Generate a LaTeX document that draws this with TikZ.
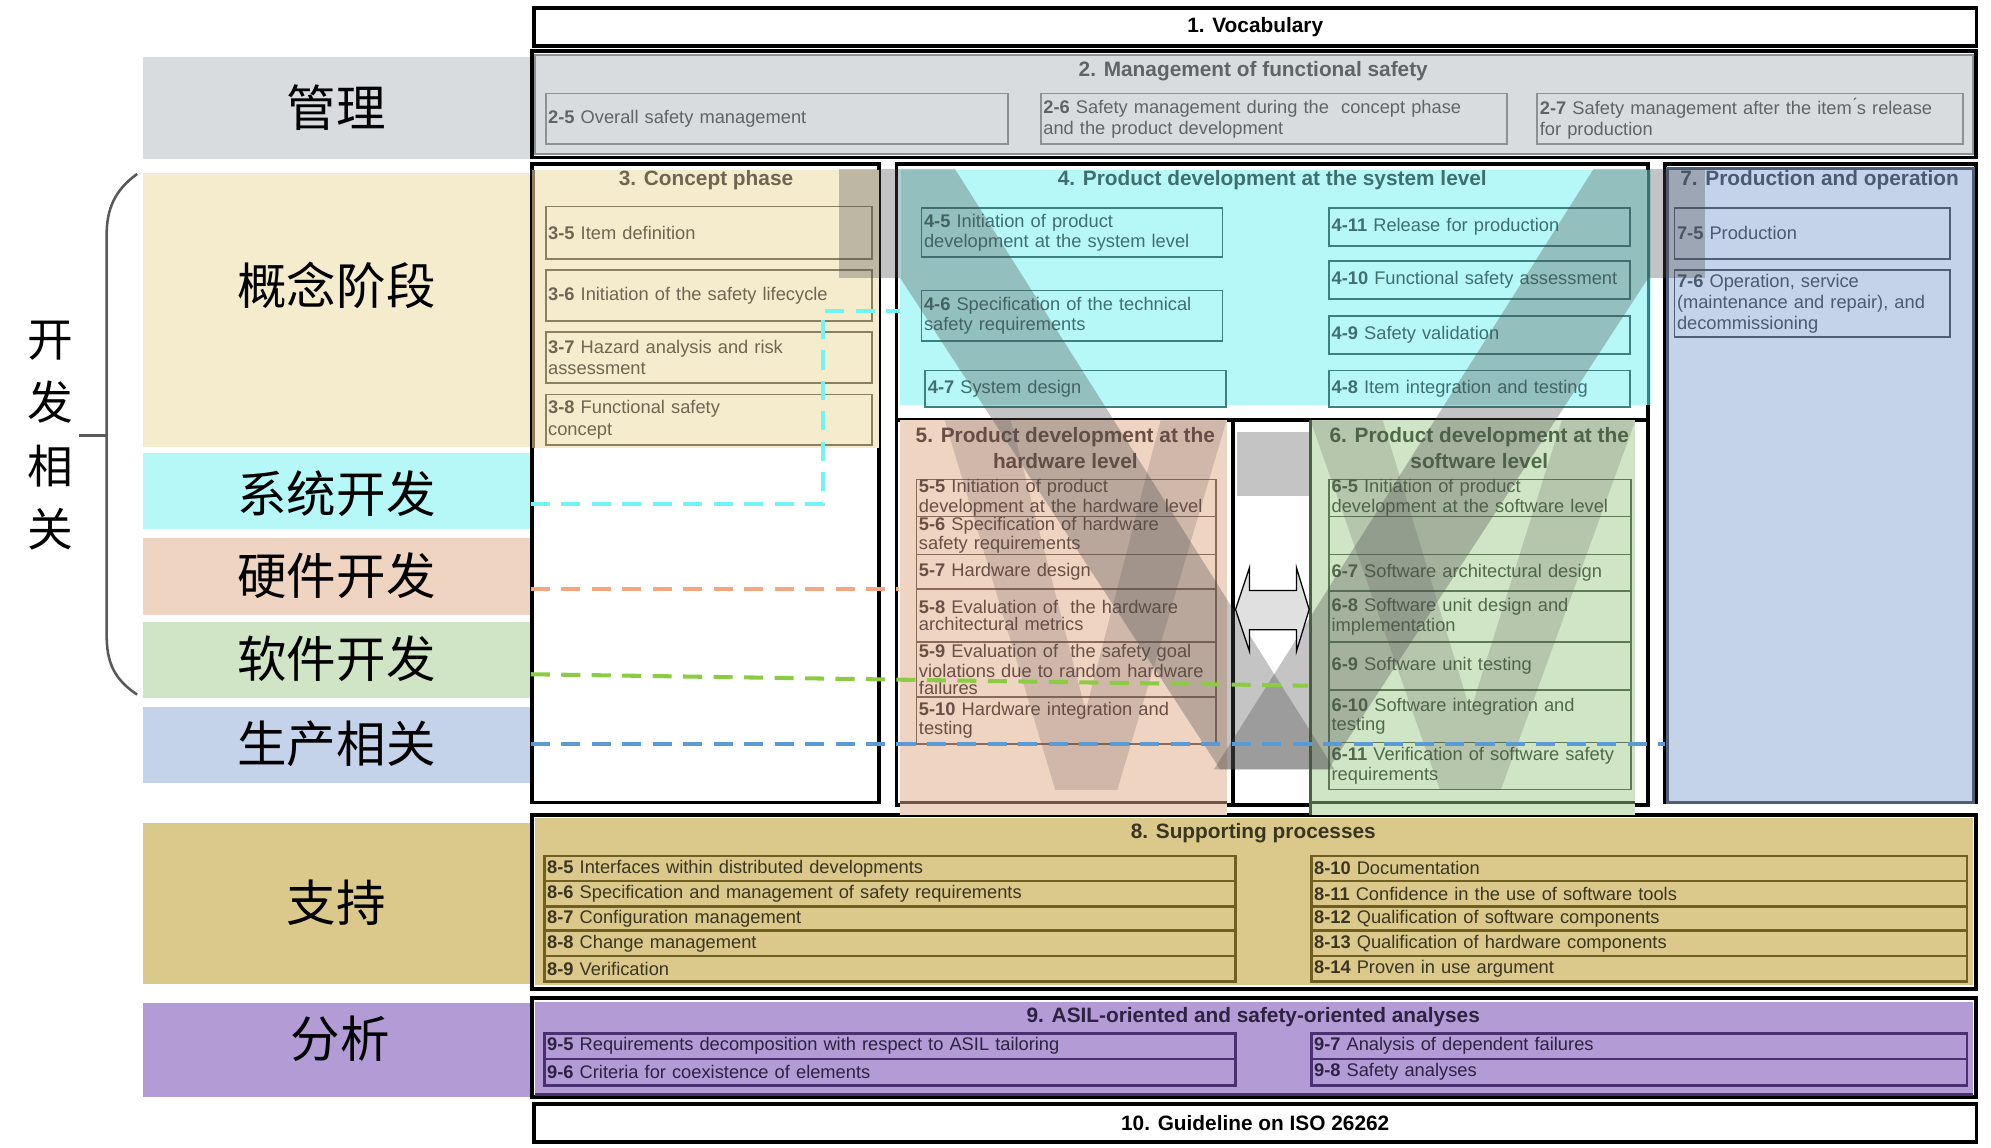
\documentclass[tikz,border=0pt]{standalone}
\usepackage{fontspec}
\setmainfont{Liberation Sans}
\newfontfamily\cjk{Noto Sans CJK SC}
\usetikzlibrary{calc}
\AtBeginDocument{\hyphenpenalty=10000 \exhyphenpenalty=10000 }
\definecolor{cMg}{HTML}{D9DCDF}
\definecolor{cCo}{HTML}{F5ECCE}
\definecolor{cSy}{HTML}{B6F8F8}
\definecolor{cHw}{HTML}{F0D4C2}
\definecolor{cSw}{HTML}{D0E5C6}
\definecolor{cPr}{HTML}{C4D3EA}
\definecolor{cSu}{HTML}{DBC98B}
\definecolor{cAn}{HTML}{B39BD6}
\definecolor{lMg}{HTML}{8C9196}
\definecolor{lCo}{HTML}{8A7F5F}
\definecolor{lSy}{HTML}{3C8080}
\definecolor{lPr}{HTML}{4F5F7A}
\definecolor{lHw}{HTML}{8B6A5A}
\definecolor{lSw}{HTML}{5D7A55}
\definecolor{lSu}{HTML}{6F5F20}
\definecolor{lAn}{HTML}{4A3070}
\definecolor{tMg}{HTML}{606468}
\definecolor{tCo}{HTML}{6E6650}
\definecolor{tSy}{HTML}{3F6F6F}
\definecolor{tPr}{HTML}{4A5A70}
\definecolor{tHw}{HTML}{6A4F45}
\definecolor{tSw}{HTML}{4F6A48}
\definecolor{tSu}{HTML}{3A3520}
\definecolor{tAn}{HTML}{2D2240}
\definecolor{dCy}{HTML}{70F4F4}
\definecolor{dOr}{HTML}{F4A77F}
\definecolor{dGr}{HTML}{8CCC45}
\definecolor{dBl}{HTML}{5B9BD5}
\newcommand\bx[7][]{%
  \node[box,#1,minimum width={(#5-#3)*0.5pt},minimum height={(#6-#4)*0.5pt},
        text width={(#5-#3)*0.5pt-2pt},anchor=north west] (#2) at (#3,#4) {#7};}
\newcommand\nm[1]{\textbf{#1}}
\begin{document}
\begin{tikzpicture}[x=0.5pt,y=-0.5pt,
  frame/.style={draw=black,line width=1.5pt},
  box/.style={draw,line width=0.7pt,inner xsep=1pt,inner ysep=0pt,align=left,
              font=\fontsize{7.2}{8.4}\selectfont},
  tight/.style={font=\fontsize{7.2}{6.6}\selectfont},
  head/.style={font=\bfseries\fontsize{8.2}{9.6}\selectfont,align=center,inner sep=0pt},
  lab/.style={font=\cjk\fontsize{19.5}{20}\selectfont,inner sep=0pt},
  dsh/.style={line width=1.6pt,dash pattern=on 7.5pt off 4.5pt},
  vgray/.style={fill=black!70,fill opacity=0.33},
  vlight/.style={fill=black!70,fill opacity=0.2}]
\useasboundingbox (0,0) rectangle (1568,904);
\fill[white] (0,0) rectangle (1568,904);

% ---------- left labels ----------
\fill[cMg] (113,45) rectangle (418,125);
\node[lab] (lmg) at (265,85) {管理};
\fill[cCo] (113,136) rectangle (418,352);
\node[lab] (lco) at (265,225) {概念阶段};
\fill[cSy] (113,357) rectangle (418,417);
\node[lab] (lsy) at (265,389) {系统开发};
\fill[cHw] (113,424) rectangle (418,484);
\node[lab] (lhw) at (265,453) {硬件开发};
\fill[cSw] (113,490) rectangle (418,550);
\node[lab] (lsw) at (265,519) {软件开发};
\fill[cPr] (113,557) rectangle (418,617);
\node[lab] (lpr) at (265,586) {生产相关};
\fill[cSu] (113,648) rectangle (418,775);
\node[lab] (lsu) at (265,711) {支持};
\fill[cAn] (113,790) rectangle (418,864);
\node[lab] (lan) at (268,818) {分析};
\draw[black!65,line width=1pt] (108,137) .. controls (90,150) and (84,165) .. (84,185)
  -- (84,500) .. controls (84,522) and (90,535) .. (108,547);
\draw[black!65,line width=1pt] (84,343) -- (62,343);
\node[font=\cjk\fontsize{18}{18}\selectfont,align=center,inner sep=0pt] (dev) at (40,343)
  {开\\[7pt]发\\[7pt]相\\[7pt]关};

% ---------- frames ----------
\node[frame,fill=white,minimum width=568pt,minimum height=15pt,anchor=north west,inner sep=0pt,
  font=\bfseries\fontsize{8.2}{9}\selectfont] (p1) at (419,5) {1. Vocabulary};
\draw[frame] (419,40) rectangle (1556,124);
\draw[frame] (419,129) rectangle (692,632);
\draw[frame] (706,129) rectangle (1298,331);
\draw[frame] (706,331) rectangle (1298,634);
\draw[frame] (971,331) -- (971,634);
\draw[frame] (1311,129) rectangle (1556,632);
\draw[frame] (419,642) rectangle (1556,779);
\draw[frame] (419,786) rectangle (1556,864);
\node[frame,fill=white,minimum width=568pt,minimum height=15pt,anchor=north west,inner sep=0pt,
  font=\bfseries\fontsize{8.2}{9}\selectfont] (p10) at (419,868) {10. Guideline on ISO 26262};

% ---------- part 2 ----------
\fill[cMg,draw=lMg,line width=0.8pt] (421,43) rectangle (1554,121);
\node[head,text=tMg] (p2) at (987,56) {2. Management of functional safety};
\begin{scope}[box/.append style={draw=lMg,text=tMg}]
\bx{b25}{429}{73}{793}{113}{\nm{2-5} Overall safety management}
\bx{b26}{819}{73}{1186}{113}{\nm{2-6} Safety management during the\ \ concept phase\\and the product development}
\bx{b27}{1210}{73}{1545}{113}{\nm{2-7} Safety management after the item\'{}s release\\for production}
\end{scope}

% ---------- part 3 ----------
\fill[cCo] (420,134) rectangle (692,353);
\draw[lCo,line width=1.2pt] (420,134) -- (420,353);
\node[head,text=tCo] (p3) at (556,142) {3. Concept phase};
\begin{scope}[box/.append style={draw=lCo,text=tCo}]
\bx{b35}{429}{162}{686}{203}{\nm{3-5} Item definition}
\bx{b36}{429}{212}{686}{252}{\nm{3-6} Initiation of the safety lifecycle}
\bx{b37}{429}{261}{686}{301}{\nm{3-7} Hazard analysis and risk\\assessment}
\bx{b38}{429}{310}{686}{350}{\nm{3-8} Functional safety\\concept}
\end{scope}

% ---------- part 4 ----------
\fill[cSy] (709,134) rectangle (1300,319);
\draw[lSy,line width=1.2pt] (1298,134) -- (1298,319);
\node[head,text=tSy] (p4) at (1002,142) {4. Product development at the system level};
\begin{scope}[box/.append style={draw=lSy,text=tSy}]
\bx[tight]{b45}{725}{163}{962}{202}{\nm{4-5} Initiation of product\\development at the system level}
\bx[tight]{b46}{725}{228}{962}{268}{\nm{4-6} Specification of the technical\\safety requirements}
\bx{b47}{728}{291}{965}{320}{\nm{4-7} System design}
\bx{b411}{1046}{163}{1283}{193}{\nm{4-11} Release for production}
\bx{b410}{1046}{205}{1283}{235}{\nm{4-10} Functional safety assessment}
\bx{b49}{1046}{248}{1283}{278}{\nm{4-9} Safety validation}
\bx{b48}{1046}{291}{1283}{320}{\nm{4-8} Item integration and testing}
\end{scope}

% ---------- part 7 ----------
\fill[cPr,draw=lPr,line width=1.2pt] (1313,133) rectangle (1554,632);
\node[head,text=tPr] (p7) at (1433,142) {7. Production and operation};
\begin{scope}[box/.append style={draw=lPr,text=tPr}]
\bx{b75}{1318}{163}{1535}{203}{\nm{7-5} Production}
\bx{b76}{1318}{212}{1535}{265}{\nm{7-6} Operation, service\\(maintenance and repair), and\\decommissioning}
\end{scope}

% ---------- part 5 ----------
\fill[cHw] (709,331) rectangle (966,642);
\draw[lHw!80!black,line width=1.2pt] (709,632) -- (966,632);
\node[head,text=tHw,font=\bfseries\fontsize{8.2}{10}\selectfont] (p5) at (839,353) {5. Product development at the\\hardware level};
\begin{scope}[box/.append style={draw=lHw,text=tHw}]
\bx[tight]{b55}{721}{377}{957}{406}{\nm{5-5} Initiation of product\\development at the hardware level}
\bx[tight]{b56}{721}{406}{957}{436}{\nm{5-6} Specification of hardware\\safety requirements}
\bx{b57}{721}{436}{957}{463}{\nm{5-7} Hardware design}
\bx[tight]{b58}{721}{463}{957}{505}{\nm{5-8} Evaluation of\ \ the hardware\\architectural metrics}
\bx[tight]{b59}{721}{505}{957}{548}{\nm{5-9} Evaluation of\ \ the safety goal\\violations due to random hardware\\failures}
\bx[tight]{b510}{721}{548}{957}{585}{\nm{5-10} Hardware integration and\\testing}
\end{scope}

% ---------- part 6 ----------
\fill[cSw] (1032,331) rectangle (1288,642);
\draw[lSw!80!black,line width=1.2pt] (1032,331) -- (1032,642);
\draw[lSw!80!black,line width=1.2pt] (1032,632) -- (1288,632);
\node[head,text=tSw,font=\bfseries\fontsize{8.2}{10}\selectfont] (p6) at (1165,353) {6. Product development at the\\software level};
\begin{scope}[box/.append style={draw=lSw,text=tSw}]
\bx[tight]{b65}{1046}{377}{1284}{406}{\nm{6-5} Initiation of product\\development at the software level}
\bx{b66}{1046}{406}{1284}{436}{}
\bx{b67}{1046}{436}{1284}{465}{\nm{6-7} Software architectural design}
\bx[tight]{b68}{1046}{465}{1284}{505}{\nm{6-8} Software unit design and\\implementation}
\bx{b69}{1046}{505}{1284}{543}{\nm{6-9} Software unit testing}
\bx[tight]{b610}{1046}{543}{1284}{584}{\nm{6-10} Software integration and\\testing}
\bx[tight]{b611}{1046}{584}{1284}{621}{\nm{6-11} Verification of software safety\\requirements}
\end{scope}

% ---------- part 8 ----------
\fill[cSu] (421,644) rectangle (1554,776);
\node[head,text=tSu] (p8) at (987,656) {8. Supporting processes};
\begin{scope}[box/.append style={draw=lSu,text=tSu,line width=0.9pt}]
\bx{b85}{428}{673}{972}{693}{\nm{8-5} Interfaces within distributed developments}
\bx{b86}{428}{693}{972}{713}{\nm{8-6} Specification and management of safety requirements}
\bx{b87}{428}{713}{972}{732}{\nm{8-7} Configuration management}
\bx{b88}{428}{732}{972}{752}{\nm{8-8} Change management}
\bx{b89}{428}{752}{972}{772}{\nm{8-9} Verification}
\bx{b810}{1032}{673}{1548}{693}{\nm{8-10} Documentation}
\bx{b811}{1032}{693}{1548}{713}{\nm{8-11} Confidence in the use of software tools}
\bx{b812}{1032}{713}{1548}{732}{\nm{8-12} Qualification of software components}
\bx{b813}{1032}{732}{1548}{752}{\nm{8-13} Qualification of hardware components}
\bx{b814}{1032}{752}{1548}{772}{\nm{8-14} Proven in use argument}
\end{scope}

% ---------- part 9 ----------
\fill[cAn] (421,789) rectangle (1554,862);
\draw[lAn,line width=1.5pt] (421,862) -- (1554,862);
\node[head,text=tAn] (p9) at (987,801) {9. ASIL-oriented and safety-oriented analyses};
\begin{scope}[box/.append style={draw=lAn,text=tAn,line width=0.9pt}]
\bx{b95}{428}{813}{972}{833}{\nm{9-5} Requirements decomposition with respect to ASIL tailoring}
\bx{b96}{428}{833}{972}{854}{\nm{9-6} Criteria for coexistence of elements}
\bx{b97}{1032}{813}{1548}{833}{\nm{9-7} Analysis of dependent failures}
\bx{b98}{1032}{833}{1548}{854}{\nm{9-8} Safety analyses}
\end{scope}

% ---------- V overlays ----------
% small V of part 5 and part 6
\fill[vlight] (744,331) -- (796,331) -- (855,560) -- (914,331) -- (966,331)
  -- (880,622) -- (831,622) -- cycle;
\fill[vlight] (1032,331) -- (1089,331) -- (1158,560) -- (1230,331) -- (1288,331)
  -- (1182,622) -- (1134,622) -- cycle;
% big V of the system level
\fill[vgray] (661,133) rectangle (709,219);
\fill[vgray] (1298,133) rectangle (1343,219);
\fill[vgray] (709,133) -- (752,133) -- (1051,606) -- (961,606) -- (709,219) -- cycle;
\fill[vgray] (1298,133) -- (1255,133) -- (956,606) -- (1046,606) -- (1298,219) -- cycle;
\fill[vgray] (974,340) rectangle (1032,391);
% interface arrow between hardware and software
\node[inner sep=0pt] (hsw) at (1002,480) {};
\draw[black,line width=0.5pt,fill=black!12]
  (973,480) -- (984,447) -- (984,465) -- (1021,465) -- (1021,447) -- (1031,480)
  -- (1021,513) -- (1021,496) -- (984,496) -- (984,513) -- cycle;

% ---------- dashed guides ----------
\coordinate (cyS) at (418,397);
\coordinate (cyA) at (648,397);
\coordinate (cyB) at (648,245);
\coordinate (cyE) at (709,245);
\draw[dsh,dCy] (cyS) -- (cyA) -- (cyB) -- (cyE);
\coordinate (orS) at (418,464);
\coordinate (orE) at (708,464);
\draw[dsh,dOr] (orS) -- (orE);
\coordinate (grS) at (418,531);
\coordinate (grE) at (1030,540);
\draw[dsh,dGr] (grS) -- (grE);
\coordinate (blS) at (418,586);
\coordinate (blE) at (1311,586);
\draw[dsh,dBl] (blS) -- (blE);
\end{tikzpicture}
\end{document}
